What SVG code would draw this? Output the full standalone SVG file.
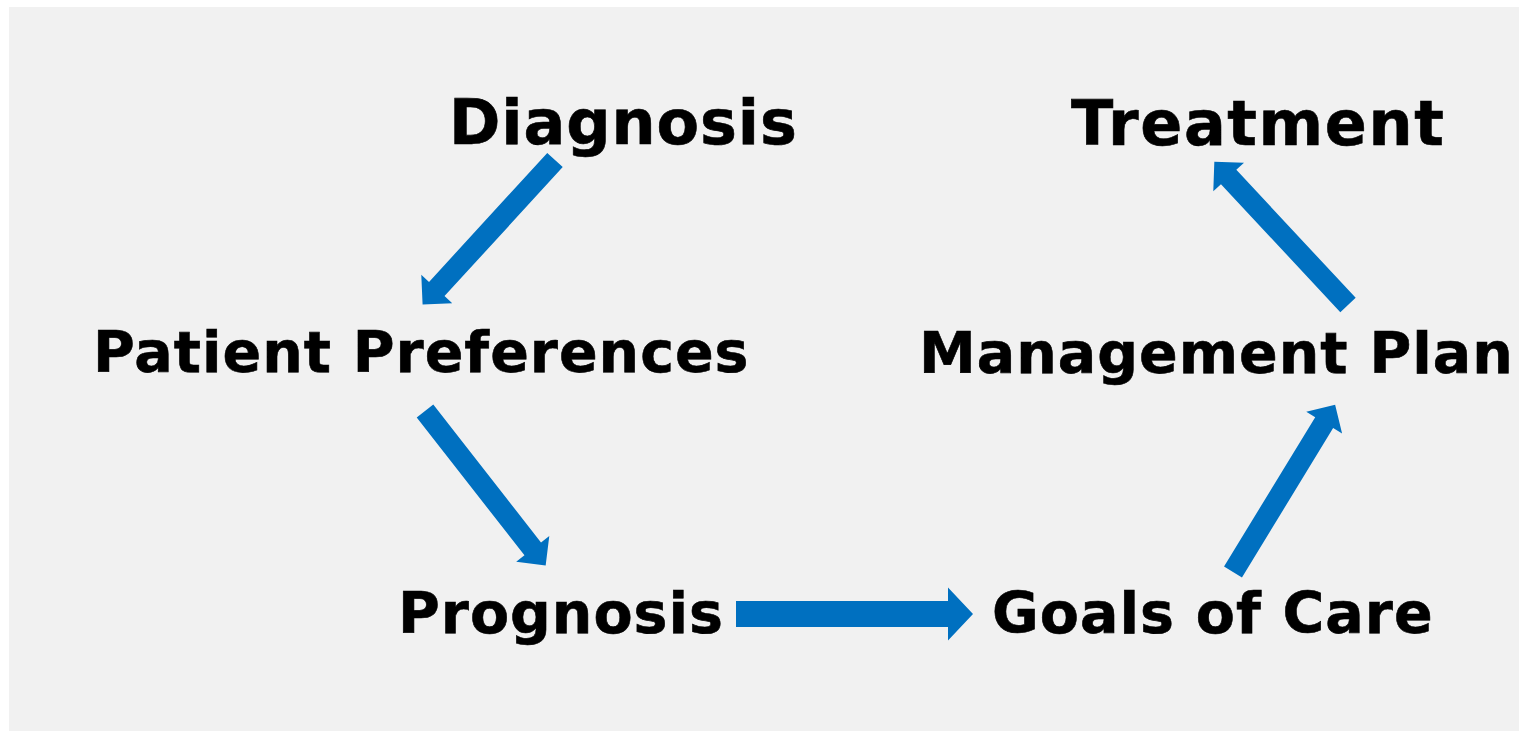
<svg xmlns="http://www.w3.org/2000/svg" xmlns:xlink="http://www.w3.org/1999/xlink" width="1519" height="731" viewBox="0 0 1519 731">
  <style>
    .label { font-family: "DejaVu Sans", Verdana, sans-serif; font-weight: bold; fill: #000; stroke: #000; stroke-width: 0.6px; }
    .big { font-size: 62px; }
    .mid { font-size: 57px; letter-spacing: 1px; }
    .arrow { fill: #0070c0; }
  </style>
  <defs>
    <!-- block arrow pointing along +x, tail at the origin -->
    <path id="diag-arrow" d="M0,-10.5 L175,-10.5 L175,-21 L196,0 L175,21 L175,10.5 L0,10.5 Z"/>
    <path id="flat-arrow" d="M0,-13 L212,-13 L212,-26.5 L237,0 L212,26.5 L212,13 L0,13 Z"/>
  </defs>

  <rect x="0" y="0" width="1519" height="731" fill="#ffffff"/>
  <rect x="9" y="7" width="1510" height="724" fill="#f1f1f1"/>

  <g id="node-diagnosis"><text class="label big" x="449" y="144" letter-spacing="0.9">Diagnosis</text></g>
  <g id="node-treatment"><text class="label big" x="1071" y="145" letter-spacing="1.6">Treatment</text></g>
  <g id="node-patient-preferences"><text class="label mid" x="93" y="372" letter-spacing="1.15">Patient Preferences</text></g>
  <g id="node-management-plan"><text class="label mid" x="919" y="373" letter-spacing="1.35">Management Plan</text></g>
  <g id="node-prognosis"><text class="label mid" x="398" y="633" letter-spacing="0.7">Prognosis</text></g>
  <g id="node-goals-of-care"><text class="label mid" x="992" y="633">Goals of Care</text></g>

  <g id="connectors" class="arrow">
    <use xlink:href="#diag-arrow" transform="translate(555,160) rotate(132.5)"/>
    <use xlink:href="#diag-arrow" transform="translate(425,411) rotate(52)"/>
    <use xlink:href="#flat-arrow" transform="translate(736,614)"/>
    <use xlink:href="#diag-arrow" transform="translate(1233,572) rotate(-58.6)"/>
    <use xlink:href="#diag-arrow" transform="translate(1348,305) rotate(-133)"/>
  </g>
</svg>
